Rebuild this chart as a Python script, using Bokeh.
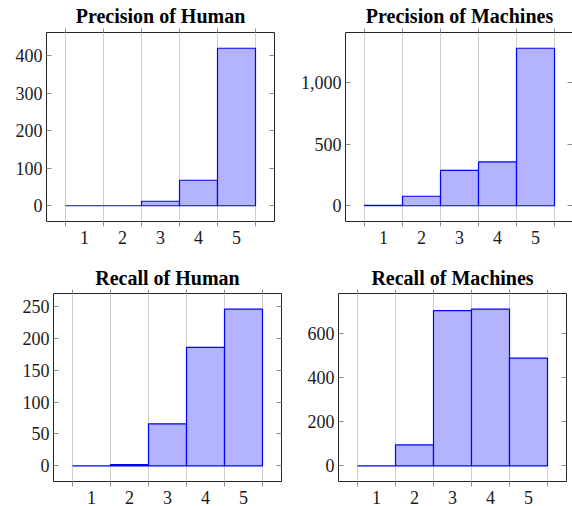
from bokeh.plotting import figure
from bokeh.layouts import column, row
from bokeh.models import (Range1d, FixedTicker, LinearAxis, NumeralTickFormatter,
                          BasicTickFormatter)
from bokeh.core.properties import value
from bokeh.embed import file_html
from bokeh.resources import INLINE

# ---- data ----
scores = [1, 2, 3, 4, 5]
bin_edges = [0.5, 1.5, 2.5, 3.5, 4.5, 5.5]

prec_human = [0, 0, 12, 68, 420]
prec_machines = [3, 77, 287, 355, 1277]
recall_human = [0, 2, 66, 186, 246]
recall_machines = [0, 95, 706, 713, 490]

yticks_prec_human = [0, 100, 200, 300, 400]
yticks_prec_machines = [0, 500, 1000]
yticks_recall_human = [0, 50, 100, 150, 200, 250]
yticks_recall_machines = [0, 200, 400, 600]

titles = ["Precision of Human", "Precision of Machines", "Recall of Human", "Recall of Machines"]

FILL = "#b3b3ff"
LINE = "#0000ff"
FRAME = "#262626"
TICK = "#8c8c8c"
GRID = "#cfcfcf"
TXT = "#1a1a1a"
SERIF = "'Liberation Serif'"


def title_strip(title, bl, br, fw, x_end, strip_h, baseline_px):
    """A thin figure holding only the panel title, aligned with the panel's axis box."""
    t = figure(width=bl + fw + br, height=strip_h,
               x_range=Range1d(0, x_end), y_range=Range1d(0, strip_h),
               x_axis_type=None, y_axis_type=None,
               output_backend="svg", toolbar_location=None,
               min_border_left=bl, min_border_right=br,
               min_border_top=0, min_border_bottom=0)
    t.outline_line_color = None
    t.grid.visible = False
    t.text(x=[3], y=[baseline_px], text=[title],
           text_align="center", text_baseline="alphabetic",
           text_font=value(SERIF), text_font_style="bold",
           text_font_size="20px", text_color="#000000")
    return t


def panel(values, yticks, comma, bl, br, bt, bb, fw, fh, x_end, outline=True):
    vmax = max(values)
    p = figure(width=bl + fw + br, height=bt + fh + bb,
               x_range=Range1d(0, x_end),
               y_range=Range1d(-0.1 * vmax, 1.1 * vmax),
               output_backend="svg", toolbar_location=None,
               min_border_left=bl, min_border_right=br,
               min_border_top=bt, min_border_bottom=bb)

    p.vbar(x=scores, width=1.0, top=values, bottom=0,
           fill_color=FILL, line_color=LINE, line_width=1.2)

    # grid
    p.ygrid.visible = False
    p.xgrid.ticker = FixedTicker(ticks=bin_edges)
    p.xgrid.grid_line_color = GRID
    p.xgrid.grid_line_width = 1

    if outline:
        p.outline_line_color = FRAME
        p.outline_line_width = 1
        axis_line = None
    else:
        p.outline_line_color = None
        axis_line = FRAME

    # bottom axis: labels at centres, tick marks at bin edges
    xb = p.xaxis[0]
    xb.ticker = FixedTicker(ticks=scores, minor_ticks=bin_edges)
    xb.major_tick_in = 0
    xb.major_tick_out = 0
    xb.minor_tick_in = 0
    xb.minor_tick_out = 5
    xb.minor_tick_line_color = TICK
    xb.axis_line_color = axis_line
    xb.major_label_text_font = SERIF
    xb.major_label_text_font_size = "18px"
    xb.major_label_text_color = TXT
    xb.major_label_standoff = 4

    # top axis: edge ticks only
    xt = LinearAxis(ticker=FixedTicker(ticks=[], minor_ticks=bin_edges))
    xt.major_tick_in = 0
    xt.major_tick_out = 0
    xt.minor_tick_in = 0
    xt.minor_tick_out = 4
    xt.minor_tick_line_color = TICK
    xt.axis_line_color = axis_line
    xt.major_label_standoff = 0
    p.add_layout(xt, "above")

    # left axis
    yl = p.yaxis[0]
    yl.ticker = FixedTicker(ticks=yticks)
    yl.formatter = NumeralTickFormatter(format="0,0") if comma else BasicTickFormatter()
    yl.major_tick_in = 5
    yl.major_tick_out = 0
    yl.minor_tick_in = 0
    yl.minor_tick_out = 0
    yl.major_tick_line_color = TICK
    yl.axis_line_color = axis_line
    yl.major_label_text_font = SERIF
    yl.major_label_text_font_size = "18px"
    yl.major_label_text_color = TXT
    yl.major_label_standoff = 4

    # right axis: tick marks only (as minor ticks, no labels)
    yr = LinearAxis(ticker=FixedTicker(ticks=[], minor_ticks=yticks))
    yr.major_tick_in = 0
    yr.major_tick_out = 0
    yr.minor_tick_in = 5
    yr.minor_tick_out = 0
    yr.minor_tick_line_color = TICK
    yr.axis_line_color = None
    yr.major_label_standoff = 0
    p.add_layout(yr, "right")
    return p


X2 = 227 / 38
t1 = title_strip(titles[0], 46, 20, 228, 6, 26, 11)
t2 = title_strip(titles[1], 51, 0, 227, X2, 26, 11)
t3 = title_strip(titles[2], 53, 20, 228, 6, 27, 11)
t4 = title_strip(titles[3], 37, 6, 228, 6, 27, 11)

p1 = panel(prec_human, yticks_prec_human, False, 46, 20, 6, 40, 228, 189, 6)
p2 = panel(prec_machines, yticks_prec_machines, True, 51, 0, 6, 40, 227, 189, X2, outline=False)
p3 = panel(recall_human, yticks_recall_human, False, 53, 20, 5, 24, 228, 189, 6)
p4 = panel(recall_machines, yticks_recall_machines, False, 37, 6, 5, 24, 228, 189, 6)

layout = column(row(t1, t2), row(p1, p2), row(t3, t4), row(p3, p4))
open("out.html", "w").write(file_html(layout, INLINE))
